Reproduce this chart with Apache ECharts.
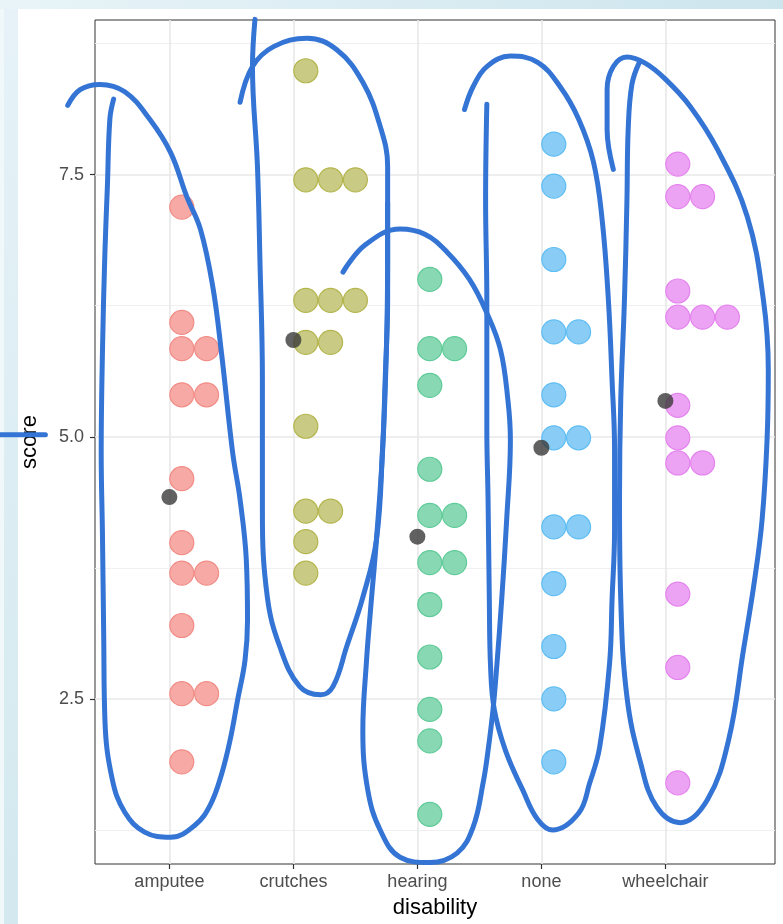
<!DOCTYPE html>
<html>
<head>
<meta charset="utf-8">
<script src="https://cdn.jsdelivr.net/npm/echarts@6/dist/echarts.min.js"></script>
<style>
html,body{margin:0;padding:0;width:783px;height:924px;background:#fff;overflow:hidden;}
#topband{position:absolute;left:0;top:0;width:783px;height:9px;background:linear-gradient(90deg,#e8f4f8,#cde5ed);}
#leftband{position:absolute;left:4px;top:9px;width:14px;height:915px;background:linear-gradient(180deg,#e6f2f7,#d3e9ef);}
#leftedge{position:absolute;left:0;top:9px;width:4px;height:915px;background:#f1f8fa;}
#chart{position:absolute;left:0;top:0;width:783px;height:924px;}
</style>
</head>
<body>
<div id="topband"></div>
<div id="leftedge"></div>
<div id="leftband"></div>
<div id="chart"></div>
<script>
// ---------- data ----------
const categories = ['amputee', 'crutches', 'hearing', 'none', 'wheelchair'];
const yTicks = [2.5, 5.0, 7.5];
const yMinorTicks = [1.25, 3.75, 6.25, 8.75];

const amputee    = [7.19, 6.09, 5.84, 5.84, 5.40, 5.40, 4.60, 3.99, 3.70, 3.70, 3.20, 2.55, 2.55, 1.90];
const crutches   = [8.49, 7.45, 7.45, 7.45, 6.30, 6.30, 6.30, 5.90, 5.90, 5.10, 4.29, 4.29, 4.00, 3.70];
const hearing    = [6.50, 5.84, 5.84, 5.49, 4.69, 4.25, 4.25, 3.80, 3.80, 3.40, 2.90, 2.40, 2.10, 1.40];
const none       = [7.79, 7.39, 6.69, 6.00, 6.00, 5.40, 4.99, 4.99, 4.14, 4.14, 3.60, 3.00, 2.50, 1.90];
const wheelchair = [7.60, 7.29, 7.29, 6.39, 6.14, 6.14, 6.14, 5.30, 4.99, 4.75, 4.75, 3.50, 2.80, 1.70];

// hand-drawn annotation strokes, in data units (x: category position, y: score)
const outlineAmputee = [[0.18,8.16],[0.28,8.31],[0.44,8.36],[0.64,8.29],[0.84,8.03],[1.01,7.71],[1.14,7.29],[1.25,6.98],[1.35,6.43],[1.42,5.80],[1.51,4.85],[1.57,4.40],[1.62,3.83],[1.63,3.25],[1.61,2.87],[1.55,2.49],[1.49,2.11],[1.42,1.78],[1.33,1.49],[1.21,1.30],[1.01,1.18],[0.80,1.23],[0.64,1.42],[0.54,1.73],[0.48,2.30],[0.47,3.13],[0.46,4.08],[0.45,4.85],[0.46,5.80],[0.48,6.76],[0.50,7.39],[0.52,8.03],[0.55,8.22]];
const outlineCrutches = [[1.57,8.19],[1.67,8.53],[1.84,8.72],[2.11,8.80],[2.35,8.69],[2.56,8.38],[2.70,7.96],[2.76,7.58],[2.76,6.95],[2.76,6.31],[2.74,5.54],[2.72,4.91],[2.67,4.02],[2.56,3.47],[2.43,3.00],[2.32,2.62],[2.22,2.54],[2.05,2.62],[1.89,3.00],[1.79,3.47],[1.75,4.28],[1.75,5.54],[1.73,6.69],[1.71,7.58],[1.67,8.53],[1.69,8.98]];
const outlineHearing = [[2.40,6.57],[2.58,6.83],[2.86,6.98],[3.06,6.93],[3.24,6.76],[3.42,6.50],[3.56,6.18],[3.67,5.83],[3.73,5.35],[3.75,4.97],[3.72,4.21],[3.68,3.45],[3.64,2.81],[3.61,2.40],[3.57,2.01],[3.53,1.70],[3.45,1.28],[3.32,1.03],[3.10,0.94],[2.86,0.99],[2.70,1.25],[2.60,1.63],[2.56,2.20],[2.59,2.87],[2.62,3.32],[2.67,4.02],[2.72,4.88],[2.75,5.83],[2.76,6.69],[2.76,7.23]];
const outlineNone = [[3.38,8.12],[3.45,8.34],[3.56,8.53],[3.75,8.63],[3.97,8.57],[4.15,8.34],[4.30,8.03],[4.42,7.62],[4.49,7.07],[4.54,6.31],[4.57,5.54],[4.59,4.88],[4.59,4.11],[4.57,3.45],[4.55,2.84],[4.47,2.04],[4.39,1.70],[4.30,1.41],[4.09,1.25],[3.97,1.35],[3.85,1.63],[3.71,2.01],[3.62,2.40],[3.59,2.81],[3.58,3.45],[3.57,4.40],[3.56,5.07],[3.56,6.31],[3.55,7.26],[3.56,8.17]];
const outlineWheelchair = [[4.58,7.55],[4.53,7.93],[4.53,8.31],[4.58,8.53],[4.69,8.62],[4.84,8.56],[5.00,8.41],[5.20,8.15],[5.42,7.74],[5.66,7.10],[5.79,6.31],[5.83,5.64],[5.82,4.97],[5.78,4.21],[5.72,3.64],[5.63,2.97],[5.51,2.11],[5.34,1.54],[5.12,1.32],[4.93,1.47],[4.80,1.89],[4.69,2.52],[4.64,3.45],[4.63,4.40],[4.64,5.35],[4.67,6.31],[4.69,7.26],[4.70,7.93],[4.73,8.36],[4.79,8.57]];
const strokeScore = [[-0.37,5.02],[0.00,5.02]];

// ---------- layout & styles ----------
const W = 783, H = 924;
const gridL = 95, gridR = 8, gridT = 20, gridB = 60;
const xMin = 0.4, xMax = 5.884, yMin = 0.926, yMax = 8.974;
const pxPerX = (W - gridL - gridR) / (xMax - xMin);
const pxPerY = (H - gridT - gridB) / (yMax - yMin);

const groups = [amputee, crutches, hearing, none, wheelchair];
const fills   = ['#F6A9A5', '#C9CA84', '#88D8B4', '#89CDF6', '#EDA3F4'];
const borders = ['#F28C86', '#B4B54C', '#5FCB98', '#5EBDF3', '#E484EE'];
const dotWidth = 0.2;          // stacked dot diameter in category units
const strokeColor = '#3474D4';
const fontFam = '"Liberation Sans", Arial, Helvetica, sans-serif';

function stackDots(vals, center) {
  const counts = {};
  return vals.map(v => {
    const k = counts[v] || 0;
    counts[v] = k + 1;
    return [center + dotWidth * (k + 0.5), v];
  });
}
const means = groups.map(g => g.reduce((a, b) => a + b, 0) / g.length);
const catPos = categories.map((c, i) => i + 1);

const series = [];
groups.forEach((g, i) => {
  series.push({
    type: 'scatter', name: categories[i], data: stackDots(g, i + 1),
    symbolSize: 24,
    itemStyle: { color: fills[i], borderColor: borders[i], borderWidth: 1.2, opacity: 1 },
    z: 2, silent: true
  });
});
series.push({
  type: 'scatter', name: 'mean', data: means.map((m, i) => [i + 1, m]),
  symbolSize: 16, itemStyle: { color: '#3a3a3a' }, z: 3, silent: true
});
// strokes live on a full-page overlay grid sharing the same scales, so they can leave the panel
[outlineAmputee, outlineCrutches, outlineHearing, outlineNone, outlineWheelchair, strokeScore].forEach(o => {
  series.push({
    type: 'line', data: o, smooth: 0.4, showSymbol: false, clip: false,
    xAxisIndex: 1, yAxisIndex: 2,
    lineStyle: { color: strokeColor, width: 5, cap: 'round', join: 'round' },
    z: 5, silent: true
  });
});

const chart = echarts.init(document.getElementById('chart'), null, { renderer: 'canvas' });
chart.setOption({
  animation: false,
  backgroundColor: 'transparent',
  textStyle: { fontFamily: fontFam },
  grid: [
    { left: gridL, right: gridR, top: gridT, bottom: gridB, show: true, borderColor: '#333', borderWidth: 1, backgroundColor: 'transparent' },
    { left: 0, right: 0, top: 0, bottom: 0, show: false }
  ],
  xAxis: [{
    type: 'value', min: xMin, max: xMax, gridIndex: 0,
    axisLine: { show: false },
    axisTick: { show: true, customValues: catPos, length: 5, lineStyle: { color: '#333', width: 1.2 } },
    axisLabel: { customValues: catPos, formatter: v => categories[Math.round(v) - 1], color: '#4d4d4d', fontSize: 18, margin: 9, fontFamily: fontFam },
    splitLine: { show: true, lineStyle: { color: '#e8e8e8', width: 1.6 } },
    name: 'disability', nameLocation: 'middle', nameGap: 33,
    nameTextStyle: { color: '#000', fontSize: 22, fontFamily: fontFam }
  }, {
    type: 'value', gridIndex: 1, show: false,
    min: xMin - gridL / pxPerX, max: xMax + gridR / pxPerX
  }],
  yAxis: [{
    type: 'value', min: yMin, max: yMax, gridIndex: 0,
    axisLine: { show: false },
    axisTick: { show: true, customValues: yTicks, length: 5, lineStyle: { color: '#333', width: 1.2 } },
    axisLabel: { customValues: yTicks, formatter: v => v.toFixed(1), color: '#4d4d4d', fontSize: 18, margin: 11, fontFamily: fontFam },
    splitLine: { show: true, lineStyle: { color: '#e8e8e8', width: 1.6 } },
    name: 'score', nameLocation: 'middle', nameGap: 54,
    nameTextStyle: { color: '#000', fontSize: 22, fontFamily: fontFam }
  }, {
    type: 'value', min: yMin, max: yMax, position: 'right', gridIndex: 0,
    axisLine: { show: false },
    axisTick: { show: false, customValues: yMinorTicks },
    axisLabel: { show: false, customValues: yMinorTicks },
    splitLine: { show: true, lineStyle: { color: '#f0f0f0', width: 1 } }
  }, {
    type: 'value', gridIndex: 1, show: false,
    min: yMin - gridB / pxPerY, max: yMax + gridT / pxPerY
  }],
  series: series
});
</script>
</body>
</html>
